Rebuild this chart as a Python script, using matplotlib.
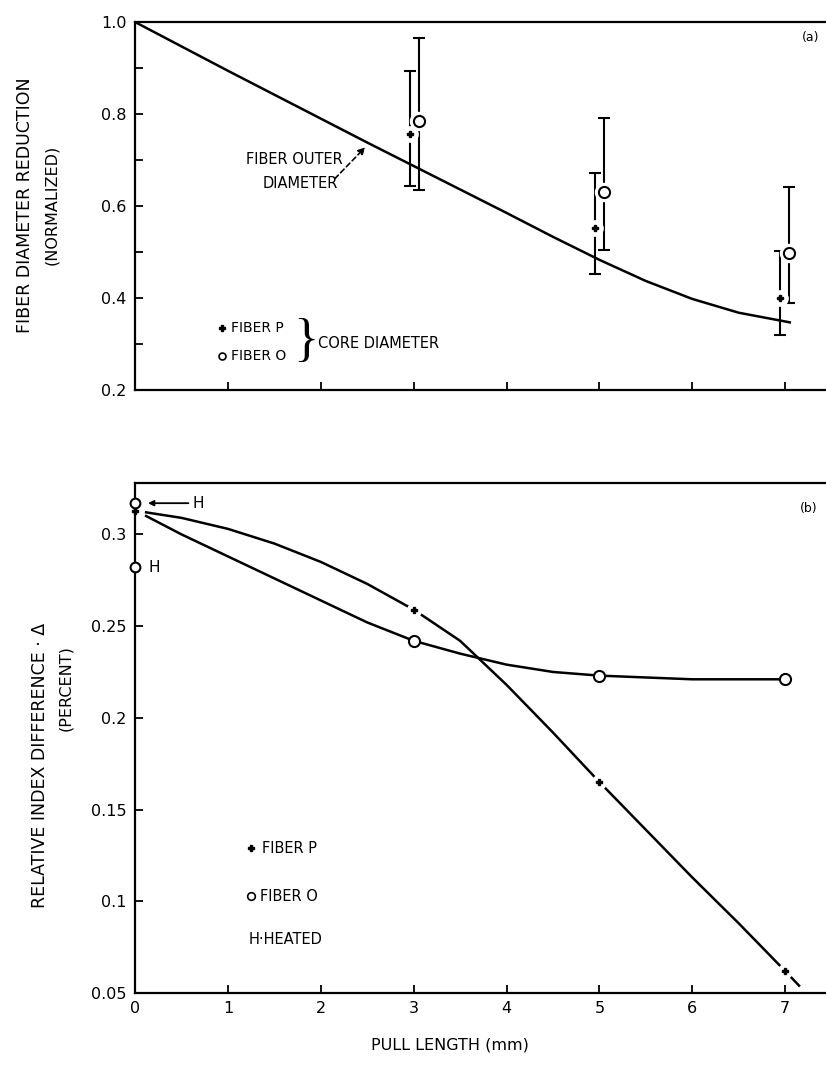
import matplotlib.pyplot as plt

plt.rcParams['font.family'] = ['DejaVu Sans']

# (a) fiber outer diameter curve
outer_x = [0, 0.5, 1, 1.5, 2, 2.5, 3, 3.5, 4, 4.5, 5, 5.5, 6, 6.5, 7, 7.05]
outer_y = [1.0, 0.947, 0.894, 0.842, 0.79, 0.738, 0.687, 0.636, 0.585, 0.533,
           0.483, 0.437, 0.398, 0.368, 0.349, 0.347]

# (a) core diameter, fiber P and fiber O, with ranges
core_p_x = [2.96, 4.95, 6.94]
core_p_y = [0.757, 0.552, 0.40]
core_p_lo = [0.644, 0.452, 0.32]
core_p_hi = [0.893, 0.672, 0.502]
core_o_x = [3.06, 5.05, 7.04]
core_o_y = [0.785, 0.63, 0.498]
core_o_lo = [0.635, 0.504, 0.389]
core_o_hi = [0.965, 0.791, 0.641]

# (b) relative index difference curves
p_x = [0.12, 0.5, 1, 1.5, 2, 2.5, 3, 3.5, 4, 4.5, 5, 5.5, 6, 6.5, 7]
p_y = [0.312, 0.309, 0.303, 0.295, 0.285, 0.273, 0.259, 0.242, 0.218, 0.192,
       0.165, 0.139, 0.113, 0.088, 0.062]
p_tail_x = [7, 7.15]
p_tail_y = [0.062, 0.054]
p_pts_x = [3, 5, 7]
p_pts_y = [0.259, 0.165, 0.062]

o_x = [0.12, 0.5, 1, 1.5, 2, 2.5, 3, 3.5, 4, 4.5, 5, 6, 7]
o_y = [0.310, 0.300, 0.288, 0.276, 0.264, 0.252, 0.242, 0.235, 0.229, 0.225,
       0.223, 0.221, 0.221]
o_pts_x = [3, 5, 7]
o_pts_y = [0.242, 0.223, 0.221]

# values at zero pull length
p0_y = 0.313
o_heated_y = [0.317, 0.282]

W, H = 826, 1068
fig = plt.figure(figsize=(W / 100, H / 100), dpi=100)
left = 135 / W
width = 1 - left
ax1 = fig.add_axes([left, 1 - 390 / H, width, 368 / H])
ax2 = fig.add_axes([left, 1 - 993 / H, width, 510 / H])

k = 'black'
fs = 11.5

for ax in (ax1, ax2):
    ax.spines['right'].set_visible(False)
    for s in ('left', 'bottom', 'top'):
        ax.spines[s].set_linewidth(1.6)
    ax.set_xlim(0, 7.44)
    ax.set_xticks(range(1, 8) if ax is ax1 else range(0, 8))
    ax.tick_params(direction='in', length=6, width=1.3, labelsize=fs, pad=6,
                   top=False, right=False)

# ---- panel (a)
ax1.set_ylim(0.2, 1.0)
ax1.set_yticks([0.2, 0.3, 0.4, 0.5, 0.6, 0.7, 0.8, 0.9, 1.0])
ax1.set_yticklabels(['0.2', '', '0.4', '', '0.6', '', '0.8', '', '1.0'])
ax1.tick_params(axis='x', labelbottom=False)

ax1.plot(outer_x, outer_y, color=k, lw=1.8, zorder=2)

ax1.errorbar(core_p_x, core_p_y,
             yerr=[[y - l for y, l in zip(core_p_y, core_p_lo)],
                   [h - y for y, h in zip(core_p_y, core_p_hi)]],
             fmt='none', ecolor=k, elinewidth=1.5, capsize=4, capthick=1.5, zorder=3)
ax1.errorbar(core_o_x, core_o_y,
             yerr=[[y - l for y, l in zip(core_o_y, core_o_lo)],
                   [h - y for y, h in zip(core_o_y, core_o_hi)]],
             fmt='none', ecolor=k, elinewidth=1.5, capsize=4, capthick=1.5, zorder=3)
# white halos give the broken bars around the symbols
ax1.plot(core_p_x, core_p_y, 'o', ms=11, color='white', zorder=4)
ax1.plot(core_o_x, core_o_y, 'o', ms=13, color='white', zorder=4)
ax1.plot(core_p_x, core_p_y, 'P', ms=5, color=k, zorder=5)
ax1.plot(core_o_x, core_o_y, 'o', ms=8, mfc='white', mec=k, mew=1.5, zorder=5)

ax1.text(1.72, 0.70, 'FIBER OUTER', ha='center', va='center', fontsize=10.5)
ax1.text(1.78, 0.65, 'DIAMETER', ha='center', va='center', fontsize=10.5)
ax1.annotate('', xy=(2.50, 0.732), xytext=(2.13, 0.655),
             arrowprops=dict(arrowstyle='-|>', color=k, lw=1.2, ls=(0, (3, 2)),
                             mutation_scale=10))

ax1.plot([0.94], [0.335], 'P', ms=5, color=k)
ax1.text(1.03, 0.335, 'FIBER P', va='center', fontsize=10)
ax1.plot([0.94], [0.274], 'o', ms=5, mfc='white', mec=k, mew=1.2)
ax1.text(1.03, 0.274, 'FIBER O', va='center', fontsize=10)
ax1.text(1.84, 0.304, '}', va='center', ha='center', fontsize=38,
         family='Liberation Serif')
ax1.text(1.97, 0.302, 'CORE DIAMETER', va='center', fontsize=10.5)
ax1.text(7.27, 0.967, '(a)', va='center', ha='center', fontsize=9)

# ---- panel (b)
ax2.set_ylim(0.05, 0.328)
ax2.set_yticks([0.05, 0.1, 0.15, 0.2, 0.25, 0.3])
ax2.set_yticklabels(['0.05', '0.1', '0.15', '0.2', '0.25', '0.3'])

ax2.plot(p_x, p_y, color=k, lw=1.8, zorder=2)
ax2.plot(p_tail_x, p_tail_y, color=k, lw=1.8, zorder=2)
ax2.plot(o_x, o_y, color=k, lw=1.8, zorder=2)
ax2.plot(p_pts_x, p_pts_y, 'o', ms=10, color='white', zorder=3)
ax2.plot(p_pts_x, p_pts_y, 'P', ms=5, color=k, zorder=4)
ax2.plot(o_pts_x, o_pts_y, 'o', ms=8, mfc='white', mec=k, mew=1.5, zorder=4)

ax2.plot([0], [p0_y], 'P', ms=5, color=k, zorder=5, clip_on=False)
ax2.plot([0] * len(o_heated_y), o_heated_y, 'o', ms=7, mfc='white', mec=k,
         mew=1.5, zorder=5, clip_on=False)
ax2.annotate('H', xy=(0.14, o_heated_y[0]), xytext=(0.62, o_heated_y[0]),
             va='center', fontsize=11,
             arrowprops=dict(arrowstyle='-|>', color=k, lw=1.3, mutation_scale=8,
                             shrinkA=1, shrinkB=0))
ax2.text(0.14, o_heated_y[1], 'H', va='center', fontsize=11)

ax2.plot([1.25], [0.129], 'P', ms=5, color=k)
ax2.text(1.37, 0.129, 'FIBER P', va='center', fontsize=10.5)
ax2.plot([1.25], [0.1028], 'o', ms=5.5, mfc='white', mec=k, mew=1.2)
ax2.text(1.35, 0.1028, 'FIBER O', va='center', fontsize=10.5)
ax2.text(1.22, 0.0789, 'H\u00b7HEATED', va='center', fontsize=10.5)
ax2.text(7.25, 0.314, '(b)', va='center', ha='center', fontsize=9)

# axis titles
fig.text(25 / W, 1 - 205 / H, 'FIBER DIAMETER REDUCTION', rotation=90,
         ha='center', va='center', fontsize=12.5)
fig.text(52 / W, 1 - 205 / H, '(NORMALIZED)', rotation=90,
         ha='center', va='center', fontsize=11.5)
fig.text(40 / W, 1 - 765 / H, 'RELATIVE INDEX DIFFERENCE \u00b7 \u0394', rotation=90,
         ha='center', va='center', fontsize=12.5)
fig.text(66 / W, 1 - 688 / H, '(PERCENT)', rotation=90,
         ha='center', va='center', fontsize=11.5)
fig.text(450 / W, 1 - 1045 / H, 'PULL LENGTH (mm)', ha='center', va='center',
         fontsize=11.5)

fig.savefig('out.png', dpi=100)
